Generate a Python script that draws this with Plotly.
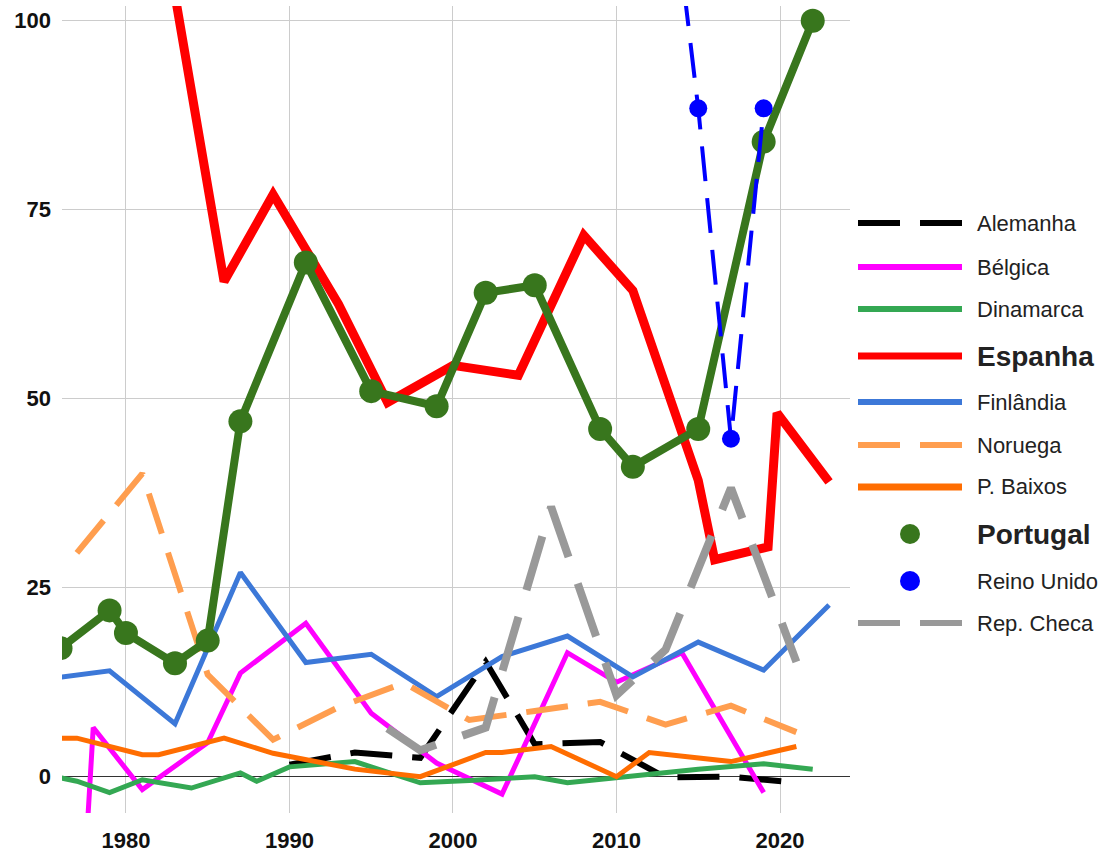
import plotly.graph_objects as go

# ---------------- data ----------------
years_alemanha = [1990, 1994, 1998, 2002, 2005, 2009, 2013, 2017, 2021]
vals_alemanha = [1.6, 3.2, 2.5, 15.2, 4.3, 4.6, -0.1, 0.0, -0.8]

years_belgica = [1977, 1978, 1981, 1985, 1987, 1991, 1995, 1999, 2003, 2007, 2010, 2014, 2019]
vals_belgica = [-30, 6.5, -1.7, 4.5, 13.7, 20.3, 8.4, 1.8, -2.3, 16.4, 12.5, 16.4, -2.1]

years_dinamarca = [1975, 1977, 1979, 1981, 1984, 1987, 1988, 1990, 1994, 1998, 2001, 2005, 2007, 2011, 2015, 2019, 2022]
vals_dinamarca = [0.3, -0.6, -2.1, -0.4, -1.5, 0.5, -0.6, 1.3, 2.0, -0.8, -0.5, 0.0, -0.8, 0.1, 1.0, 1.7, 1.0]

years_espanha = [1977, 1979, 1982, 1986, 1989, 1993, 1996, 2000, 2004, 2008, 2011, 2015, 2016, 2019.27, 2019.82, 2023]
vals_espanha = [170, 150, 116, 65.5, 77, 62.5, 49.5, 54.4, 53.1, 71.6, 64.3, 39.2, 28.7, 30.4, 48.1, 39.0]

years_finlandia = [1975, 1979, 1983, 1987, 1991, 1995, 1999, 2003, 2007, 2011, 2015, 2019, 2023]
vals_finlandia = [12.9, 14.0, 7.0, 27.0, 15.1, 16.2, 10.6, 15.9, 18.6, 13.2, 17.8, 14.1, 22.7]

years_noruega = [1977, 1981, 1985, 1989, 1993, 1997, 2001, 2005, 2009, 2013, 2017, 2021]
vals_noruega = [29.6, 40.1, 13.5, 4.9, 9.2, 12.4, 7.5, 8.7, 9.9, 6.9, 9.4, 5.9]

years_pbaixos = [1972, 1977, 1981, 1982, 1986, 1989, 1994, 1998, 2002, 2003, 2006, 2010, 2012, 2017, 2021]
vals_pbaixos = [5.0, 5.1, 2.9, 2.9, 5.1, 3.1, 1.0, 0.0, 3.2, 3.2, 4.0, 0.0, 3.2, 2.0, 4.0]

years_portugal = [1976, 1979, 1980, 1983, 1985, 1987, 1991, 1995, 1999, 2002, 2005, 2009, 2011, 2015, 2019, 2022]
vals_portugal = [17, 22, 19, 15, 18, 47, 68, 51, 49, 64, 65, 46, 41, 46, 84, 100]

years_reino_unido = [2010, 2015, 2017, 2019]
vals_reino_unido = [179, 88.4, 44.7, 88.4]

years_rep_checa = [1996, 1998, 2002, 2006, 2010, 2013, 2017, 2021]
vals_rep_checa = [6.4, 3.5, 6.5, 35.7, 10.8, 16.8, 38.2, 15.2]

x_ticks = [1980, 1990, 2000, 2010, 2020]
y_ticks = [0, 25, 50, 75, 100]

# ---------------- styles ----------------
series = [
    dict(name="Alemanha", x=years_alemanha, y=vals_alemanha, color="#000000", width=6, dash="42px,20px", bold=False),
    dict(name="Bélgica", x=years_belgica, y=vals_belgica, color="#ff00ff", width=5, dash="solid", bold=False),
    dict(name="Dinamarca", x=years_dinamarca, y=vals_dinamarca, color="#34a853", width=5, dash="solid", bold=False),
    dict(name="Espanha", x=years_espanha, y=vals_espanha, color="#ff0000", width=9, dash="solid", bold=True),
    dict(name="Finlândia", x=years_finlandia, y=vals_finlandia, color="#3c78d8", width=5, dash="solid", bold=False),
    dict(name="Noruega", x=years_noruega, y=vals_noruega, color="#ff9e4f", width=6, dash="42px,20px", bold=False),
    dict(name="P. Baixos", x=years_pbaixos, y=vals_pbaixos, color="#ff6d01", width=5, dash="solid", bold=False),
    dict(name="Portugal", x=years_portugal, y=vals_portugal, color="#38761d", width=8, dash="solid", bold=True, marker=24),
    dict(name="Reino Unido", x=years_reino_unido, y=vals_reino_unido, color="#0000ff", width=4, dash="35px,17px", bold=False, marker=18),
    dict(name="Rep. Checa", x=years_rep_checa, y=vals_rep_checa, color="#999999", width=8, dash="56px,28px", bold=False),
]

fig = go.Figure()
for s in series:
    mode = "lines+markers" if s.get("marker") else "lines"
    fig.add_trace(go.Scatter(
        x=s["x"], y=s["y"], mode=mode, name=s["name"],
        line=dict(color=s["color"], width=s["width"], dash=s["dash"], simplify=False),
        marker=dict(size=s.get("marker", 6), color=s["color"]),
        showlegend=False, hoverinfo="skip",
    ))

# ---------------- plot area geometry ----------------
W, H = 1102, 852
L, R, T, B = 62, 850, 6, 813

def px_x(p):
    return (p - L) / (R - L)

def px_y(p):
    return (B - p) / (B - T)

# ---------------- custom legend ----------------
legend_rows = [
    ("Alemanha", 223, "line", 6),
    ("Bélgica", 267, "line", 6),
    ("Dinamarca", 309, "line", 6),
    ("Espanha", 356, "line", 7),
    ("Finlândia", 402, "line", 6),
    ("Noruega", 445, "line", 6),
    ("P. Baixos", 487, "line", 7),
    ("Portugal", 534, "dot", 0),
    ("Reino Unido", 581, "dot", 0),
    ("Rep. Checa", 623, "line", 6),
]
legend_dash = {"Alemanha": "42px,20px", "Noruega": "42px,20px", "Rep. Checa": "42px,20px"}
colors = {s["name"]: s["color"] for s in series}
bolds = {s["name"]: s["bold"] for s in series}

shapes = []
annotations = []
for name, yp, kind, lw in legend_rows:
    if kind == "line":
        shapes.append(dict(type="line", xref="paper", yref="paper",
                           x0=px_x(858), x1=px_x(962), y0=px_y(yp), y1=px_y(yp),
                           line=dict(color=colors[name], width=lw, dash=legend_dash.get(name, "solid"))))
    else:
        shapes.append(dict(type="circle", xref="paper", yref="paper",
                           x0=px_x(900), x1=px_x(920), y0=px_y(yp + 10), y1=px_y(yp - 10),
                           fillcolor=colors[name], line=dict(width=0)))
    annotations.append(dict(
        x=px_x(975), y=px_y(yp), xref="paper", yref="paper", text=name, showarrow=False,
        xanchor="left", yanchor="middle",
        font=dict(family="Arial, Liberation Sans, sans-serif", size=28 if bolds[name] else 22,
                  color="#222222", weight="bold" if bolds[name] else "normal"),
    ))

fig.update_layout(
    width=W, height=H,
    margin=dict(l=L, r=W - R, t=T, b=H - B, pad=0),
    plot_bgcolor="white", paper_bgcolor="white",
    showlegend=False,
    shapes=shapes, annotations=annotations,
    font=dict(family="Arial, Liberation Sans, sans-serif"),
)
fig.update_xaxes(
    range=[1976.09, 2024.28], tickvals=x_ticks, ticktext=[str(v) for v in x_ticks],
    showgrid=True, gridcolor="#cccccc", gridwidth=1, zeroline=False, showline=False,
    tickfont=dict(size=22, color="#111111", weight="bold"), ticklabelstandoff=12,
    automargin=False,
)
fig.update_yaxes(
    range=[-4.8, 101.94], tickvals=y_ticks, ticktext=[str(v) for v in y_ticks],
    showgrid=True, gridcolor="#cccccc", gridwidth=1,
    zeroline=True, zerolinecolor="#333333", zerolinewidth=1, showline=False,
    tickfont=dict(size=22, color="#111111", weight="bold"), ticklabelstandoff=10,
    automargin=False,
)

fig.write_html(
    "out.html",
    config={"displayModeBar": False},
    post_script="document.body.style.margin='0';document.body.style.padding='0';",
)
